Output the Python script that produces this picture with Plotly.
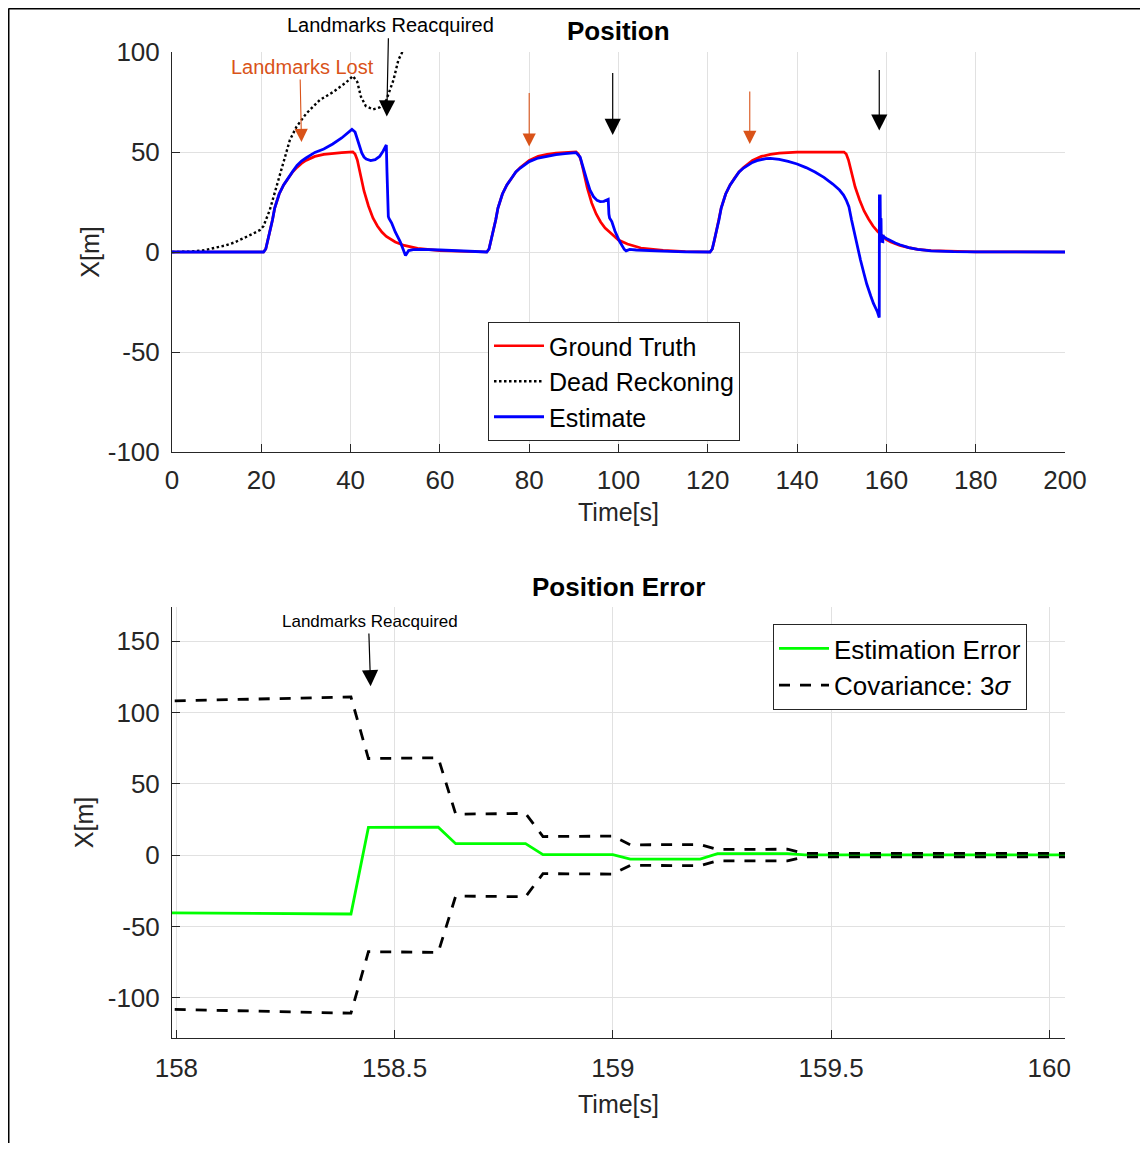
import plotly.graph_objects as go

# ---------------- Top panel data (Position) ----------------
gt_t = [0, 20.5, 21, 21.5, 22, 22.5, 23, 24, 25, 26, 27, 28, 29, 30, 32, 34, 36, 38, 40.5,
        41, 41.5, 42, 42.5, 43, 44, 45, 46, 47, 48, 50, 52, 55, 60, 65, 70.5,
        71, 71.5, 72, 72.5, 73, 74, 75, 76, 77, 78, 79, 80, 82, 84, 86, 88, 90.5,
        91, 91.5, 92, 92.5, 93, 94, 95, 96, 97, 98, 100, 102, 105, 110, 115, 120.5,
        121, 121.5, 122, 122.5, 123, 124, 125, 126, 127, 128, 129, 130, 132, 134, 136, 138, 140, 150.5,
        151, 151.5, 152, 152.5, 153, 154, 155, 156, 157, 158, 159, 160, 161, 162, 163, 165, 167, 170, 175, 180, 200]
gt_x = [0, 0, 1.5, 6, 11, 16, 22, 29, 33.5, 37, 40, 42.3, 44.3, 45.8, 47.8, 48.8, 49.4, 49.7, 50,
        49, 46, 41, 35.5, 30.5, 23, 17, 13, 10, 7.8, 5, 3.3, 1.8, 0.7, 0.2, 0,
        1.5, 6, 11, 16, 22, 29, 33.5, 37, 40, 42.3, 44.3, 45.8, 47.8, 48.8, 49.4, 49.7, 50,
        49, 46.5, 42, 37, 32, 24.5, 19, 15, 12, 10, 6, 4, 2, 0.8, 0.2, 0,
        1.5, 6, 11, 16, 22, 29, 33.5, 37, 40, 42.3, 44.3, 45.8, 47.8, 48.8, 49.4, 49.7, 49.9, 50,
        49, 46, 41.5, 36.5, 32.5, 26, 20.5, 16.5, 13, 10.3, 8, 6.2, 5, 4, 3.3, 2.2, 1.3, 0.7, 0.3, 0.1, 0]

dr_t = [0, 4, 7, 10, 12, 14, 16, 18, 19.7, 20.5, 21.9, 23.4, 24.9, 26.4, 27.9, 30.1, 33.1, 36.1, 39.1, 40.5,
        41.5, 42.3, 43.4, 45, 46.5, 48, 49.6, 50.7, 51.8, 53, 55, 60]
dr_x = [0, 0.2, 0.8, 2.2, 3.3, 4.8, 6.8, 9, 11, 13, 21, 32.7, 44.3, 56, 62.7, 69.3, 76, 80, 85, 88,
        85, 77.7, 73, 71.3, 72.3, 76, 86, 96, 101, 112, 125, 160]

est_t = [0, 20.5, 21, 21.5, 22, 22.5, 23, 24, 25, 26, 27, 28, 29, 30, 31, 32, 34, 36, 38, 39.5, 40.3,
         41, 41.5, 42, 42.5, 43, 43.5, 44.5, 45.5, 46.5, 47.3, 48.0, 48.15, 48.3, 48.45, 48.6, 49.2, 50, 51.1, 52.3,
         53, 54, 56, 60, 65, 70.5,
         71, 71.5, 72, 72.5, 73, 74, 75, 76, 77, 78, 79, 80, 82, 84, 86, 88, 90.5,
         91.4, 92.2, 92.9, 93.6, 94.4, 95.2, 95.9, 96.7, 97.7, 97.85, 98.0, 98.5, 99.2, 100.2, 101.3, 101.7, 102.5,
         104, 107, 110, 115, 120.5,
         121, 121.5, 122, 122.5, 123, 124, 125, 126, 127, 128, 129, 130, 131, 132, 133, 134,
         136, 138, 140, 142, 144, 146, 148, 149.5, 150.4, 151, 151.6, 152.2, 152.7, 153.5, 154.2, 155, 155.6,
         156.5, 157.1, 158, 158.4, 158.44, 158.6, 158.64, 158.8, 158.84, 159, 159.04, 159.2, 159.24, 159.44,
         160, 161, 162, 163, 164, 165, 167, 170, 175, 180, 200]
est_x = [0, 0, 1.5, 6, 11, 16, 22, 29, 33.5, 37, 40.2, 43.3, 45.5, 47, 48.5, 49.8, 51.5, 54, 57, 59.5, 61.3,
         60, 57, 53, 49.5, 47.5, 46.5, 45.7, 46.2, 47.8, 50.5, 53.5, 40, 26, 17.7, 16.8, 14.5, 10, 5.2, -1.8,
         0.7, 1.2, 1.3, 1.0, 0.4, 0,
         1.5, 6, 11, 16, 22, 29, 33.5, 37, 40, 42, 43.8, 45.2, 47, 48, 48.7, 49.2, 49.7,
         47.5, 42, 36, 31, 27.7, 25.8, 25.2, 25.3, 26.3, 19, 17, 15.2, 10.5, 5.5, 1.3, 0.6, 1.3,
         1.0, 0.6, 0.4, 0.1, 0,
         1.5, 6, 11, 16, 22, 29, 33.5, 37, 40, 42, 43.6, 44.8, 45.7, 46.3, 46.7, 46.8,
         46.3, 45.3, 44, 42.2, 40, 37.3, 34, 31, 28.5, 26, 22.7, 16, 11, 2, -4, -11, -16,
         -22, -25.7, -30, -32.8, 28, 28, 17, 16.5, 8.5, 8.2, 5.3, 5.2, 8.5, 7.5,
         6.8, 5.5, 4.5, 3.6, 2.8, 2.2, 1.3, 0.6, 0.2, 0.05, 0]

top_xticks = [0, 20, 40, 60, 80, 100, 120, 140, 160, 180, 200]
top_yticks = [-100, -50, 0, 50, 100]
top_yticktext = ["-100", "-50", "0", "50", "100"]

# ---------------- Bottom panel data (Position Error) ----------------
err_t = [157.9, 158.0, 158.4, 158.44, 158.6, 158.64, 158.8, 158.84, 159.0, 159.04, 159.2, 159.24, 159.4, 159.44,
         159.6, 159.8, 160.0, 160.1]
err_x = [-40.3, -40.4, -41.3, 19.4, 19.6, 8.0, 8.1, 0.3, 0.3, -2.8, -2.8, 1.0, 1.0, 0.2,
         0.2, 0.2, 0.2, 0.2]

cov_t = [157.9, 158.4, 158.44, 158.6, 158.64, 158.8, 158.84, 159.0, 159.04, 159.2, 159.24, 159.4, 159.44, 160.1]
cov_hi = [107.5, 110.8, 67.7, 68.2, 28.7, 29.2, 13.0, 13.3, 7.2, 7.4, 4.0, 4.1, 1.2, 1.2]
cov_lo = [-107.5, -110.8, -67.7, -68.2, -28.7, -29.2, -13.0, -13.3, -7.2, -7.4, -4.0, -4.1, -1.2, -1.2]

bot_xticks = [158, 158.5, 159, 159.5, 160]
bot_xticktext = ["158", "158.5", "159", "159.5", "160"]
bot_yticks = [-100, -50, 0, 50, 100, 150]
bot_yticktext = ["-100", "-50", "0", "50", "100", "150"]

# ---------------- Styling ----------------
FONT = "Liberation Sans, Arial, Helvetica, sans-serif"
AX = "#262626"
GRID = "#e1e1e1"
ORANGE = "#D95319"
OFF = 8                      # page body margin
W, H = 1148 - 2 * OFF, 1151 - 2 * OFF


def px(p):
    return (p - OFF) / W


def py(p):
    return 1 - (p - OFF) / H


fig = go.Figure()
fig.add_trace(go.Scatter(x=gt_t, y=gt_x, mode="lines", name="Ground Truth",
                         line=dict(color="#FF0000", width=2.7), xaxis="x", yaxis="y", legend="legend"))
fig.add_trace(go.Scatter(x=dr_t, y=dr_x, mode="lines", name="Dead Reckoning",
                         line=dict(color="black", width=2.4, dash="2.5px,2.5px"), xaxis="x", yaxis="y",
                         legend="legend"))
fig.add_trace(go.Scatter(x=est_t, y=est_x, mode="lines", name="Estimate",
                         line=dict(color="#0000FF", width=2.8), xaxis="x", yaxis="y", legend="legend"))

fig.add_trace(go.Scatter(x=err_t, y=err_x, mode="lines", name="Estimation Error",
                         line=dict(color="#00FF00", width=2.8), xaxis="x2", yaxis="y2", legend="legend2"))
fig.add_trace(go.Scatter(x=cov_t, y=cov_hi, mode="lines", name="Covariance: 3<i>σ</i>",
                         line=dict(color="black", width=2.8, dash="11px,10px"), xaxis="x2", yaxis="y2",
                         legend="legend2", legendgroup="cov"))
fig.add_trace(go.Scatter(x=cov_t, y=cov_lo, mode="lines", name="Covariance: 3<i>σ</i>", showlegend=False,
                         line=dict(color="black", width=2.8, dash="11px,10px"), xaxis="x2", yaxis="y2",
                         legend="legend2", legendgroup="cov"))

axis_common = dict(showgrid=True, gridcolor=GRID, gridwidth=1, showline=True, linecolor=AX, linewidth=1,
                   zeroline=False, ticks="inside", ticklen=8, tickcolor=AX, tickwidth=1,
                   tickfont=dict(family=FONT, size=26, color=AX), automargin=False, mirror=False)

xdom = [px(172), px(1065)]
fig.update_layout(
    width=W, height=H,
    margin=dict(l=0, r=0, t=0, b=0),
    paper_bgcolor="white", plot_bgcolor="white",
    font=dict(family=FONT, color=AX),
    xaxis=dict(axis_common, domain=xdom, anchor="y", range=[0, 200], tickvals=top_xticks,
               ticklabelstandoff=5,
               title=dict(text="Time[s]", font=dict(family=FONT, size=25, color=AX), standoff=9)),
    yaxis=dict(axis_common, domain=[py(452), py(52)], anchor="x", range=[-100, 100],
               tickvals=top_yticks, ticktext=top_yticktext, ticklabelstandoff=6,
               title=dict(text="X[m]", font=dict(family=FONT, size=25, color=AX), standoff=1)),
    xaxis2=dict(axis_common, domain=xdom, anchor="y2", range=[157.99, 160.036],
                tickvals=bot_xticks, ticktext=bot_xticktext, ticklabelstandoff=7,
                title=dict(text="Time[s]", font=dict(family=FONT, size=25, color=AX), standoff=13)),
    yaxis2=dict(axis_common, domain=[py(1038), py(607)], anchor="x2", range=[-128.2, 173.9],
                tickvals=bot_yticks, ticktext=bot_yticktext, ticklabelstandoff=6,
                title=dict(text="X[m]", font=dict(family=FONT, size=25, color=AX), standoff=7)),
    legend=dict(x=px(488), y=py(322), xanchor="left", yanchor="top", bgcolor="white",
                bordercolor=AX, borderwidth=1, font=dict(family=FONT, size=25, color="black"),
                itemwidth=50, tracegroupgap=0),
    legend2=dict(x=px(773), y=py(624), xanchor="left", yanchor="top", bgcolor="white",
                 bordercolor=AX, borderwidth=1, font=dict(family=FONT, size=26, color="black"),
                 itemwidth=50, tracegroupgap=0),
    showlegend=True,
)

annotations = [
    # titles
    dict(text="<b>Position</b>", x=px(618), y=py(31), xref="paper", yref="paper", showarrow=False,
         font=dict(family=FONT, size=26, color="black"), xanchor="center", yanchor="middle"),
    dict(text="<b>Position Error</b>", x=px(618), y=py(587), xref="paper", yref="paper", showarrow=False,
         font=dict(family=FONT, size=26, color="black"), xanchor="center", yanchor="middle"),
    # top annotations
    dict(text="Landmarks Reacquired", x=px(390), y=py(25), xref="paper", yref="paper", showarrow=False,
         font=dict(family=FONT, size=20, color="black"), xanchor="center", yanchor="middle"),
    dict(text="Landmarks Lost", x=29.3, y=92.5, xref="x", yref="y", showarrow=False,
         font=dict(family=FONT, size=20, color=ORANGE), xanchor="center", yanchor="middle"),
    # bottom annotation text
    dict(text="Landmarks Reacquired", x=158.443, y=163.9, xref="x2", yref="y2", showarrow=False,
         font=dict(family=FONT, size=17, color="black"), xanchor="center", yanchor="middle"),
]

# arrows: (x tip, y tip, x tail, y tail, color, xref, yref, size, width)
arrows = [
    (29.0, 55.0, 28.7, 87.0, ORANGE, "x", "y", 2.4, 1.1),
    (48.1, 67.7, 48.47, 107.6, "black", "x", "y", 2.7, 1.2),
    (80.0, 52.7, 80.0, 80.2, ORANGE, "x", "y", 2.4, 1.1),
    (98.7, 58.5, 98.7, 90.2, "black", "x", "y", 2.7, 1.2),
    (129.4, 54.0, 129.4, 81.0, ORANGE, "x", "y", 2.4, 1.1),
    (158.4, 60.7, 158.4, 91.8, "black", "x", "y", 2.7, 1.2),
    (158.445, 118.3, 158.441, 156.4, "black", "x2", "y2", 2.7, 1.2),
]
for xt, yt, xa, ya, col, xr, yr, sz, wd in arrows:
    annotations.append(dict(text="", x=xt, y=yt, ax=xa, ay=ya, xref=xr, yref=yr, axref=xr, ayref=yr,
                            showarrow=True, arrowhead=2, arrowsize=sz, arrowwidth=wd, arrowcolor=col,
                            standoff=0, startstandoff=0))
fig.update_layout(annotations=annotations)

# figure border lines (top and left)
fig.update_layout(shapes=[
    dict(type="line", xref="paper", yref="paper", x0=px(8.5), x1=1, y0=py(8.5), y1=py(8.5),
         line=dict(color="black", width=2)),
    dict(type="line", xref="paper", yref="paper", x0=px(8.5), x1=px(8.5), y0=py(8.5), y1=0,
         line=dict(color="black", width=2)),
])

fig.write_html("out.html")
